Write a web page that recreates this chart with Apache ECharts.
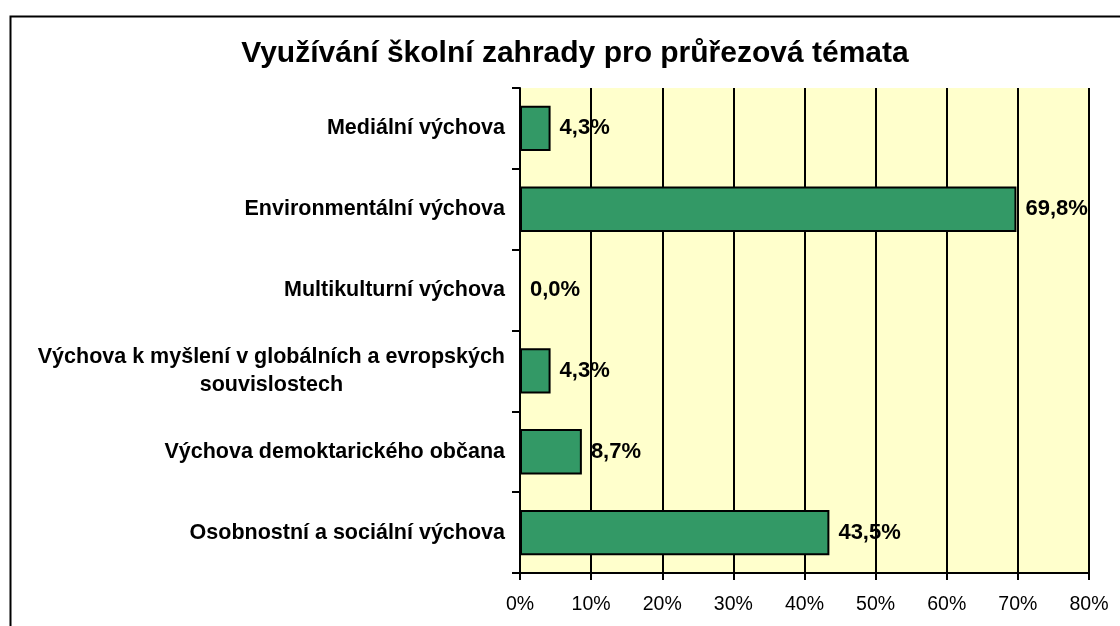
<!DOCTYPE html>
<html>
<head>
<meta charset="utf-8">
<script src="https://cdn.jsdelivr.net/npm/echarts@6/dist/echarts.min.js"></script>
<style>
  html, body { margin: 0; padding: 0; background: #fff; }
  #chart { width: 1120px; height: 626px; }
</style>
</head>
<body>
<div id="chart"></div>
<script>
// kategorie shora dolů
const categories = [
  'Mediální výchova',
  'Environmentální výchova',
  'Multikulturní výchova',
  'Výchova k myšlení v globálních a evropských\nsouvislostech',
  'Výchova demoktarického občana',
  'Osobnostní a sociální výchova'
];
const values = [4.3, 69.8, 0.0, 4.3, 8.7, 43.5];
const xTicks = [0, 10, 20, 30, 40, 50, 60, 70, 80];

const chart = echarts.init(document.getElementById('chart'));
const font = 'Liberation Sans, Arial, sans-serif';

chart.setOption({
  animation: false,
  title: {
    text: 'Využívání školní zahrady pro průřezová témata',
    left: 570,
    textAlign: 'center',
    top: 34,
    textStyle: { fontFamily: font, fontSize: 30, fontWeight: 'bold', color: '#000' }
  },
  graphic: [{
    type: 'rect',
    left: 8, top: 14,
    shape: { width: 1130, height: 700 },
    style: { fill: 'none', stroke: '#000', lineWidth: 2 },
    z: 100
  }],
  grid: { left: 520, right: 31, top: 88, bottom: 53, backgroundColor: '#FFFFCC', show: true, borderWidth: 0 },
  xAxis: {
    type: 'value',
    min: xTicks[0],
    max: xTicks[xTicks.length - 1],
    interval: 10,
    axisLine: { show: true, lineStyle: { color: '#000', width: 2 } },
    axisTick: { show: true, length: 7, lineStyle: { color: '#000', width: 2 } },
    splitLine: { show: true, lineStyle: { color: '#000', width: 2 } },
    axisLabel: {
      formatter: '{value}%',
      margin: 22,
      fontFamily: font, fontSize: 19.5, color: '#000'
    }
  },
  yAxis: {
    type: 'category',
    inverse: true,
    data: categories,
    axisLine: { show: true, lineStyle: { color: '#000', width: 2 } },
    axisTick: { show: true, length: 8, lineStyle: { color: '#000', width: 2 } },
    axisLabel: {
      margin: 15,
      formatter: v => '{a|' + v.split('\n').join('}\n{a|') + '}',
      rich: {
        a: { fontFamily: font, fontSize: 21.5, fontWeight: 'bold', color: '#000', align: 'center', lineHeight: 28 }
      }
    }
  },
  series: [{
    type: 'bar',
    data: values,
    barCategoryGap: '44%',
    itemStyle: { color: '#339966', borderColor: '#000', borderWidth: 2 },
    label: {
      show: true,
      position: 'right',
      distance: 9,
      formatter: p => p.value.toFixed(1).replace('.', ',') + '%',
      fontFamily: font, fontSize: 22, fontWeight: 'bold', color: '#000'
    }
  }]
});
</script>
</body>
</html>
